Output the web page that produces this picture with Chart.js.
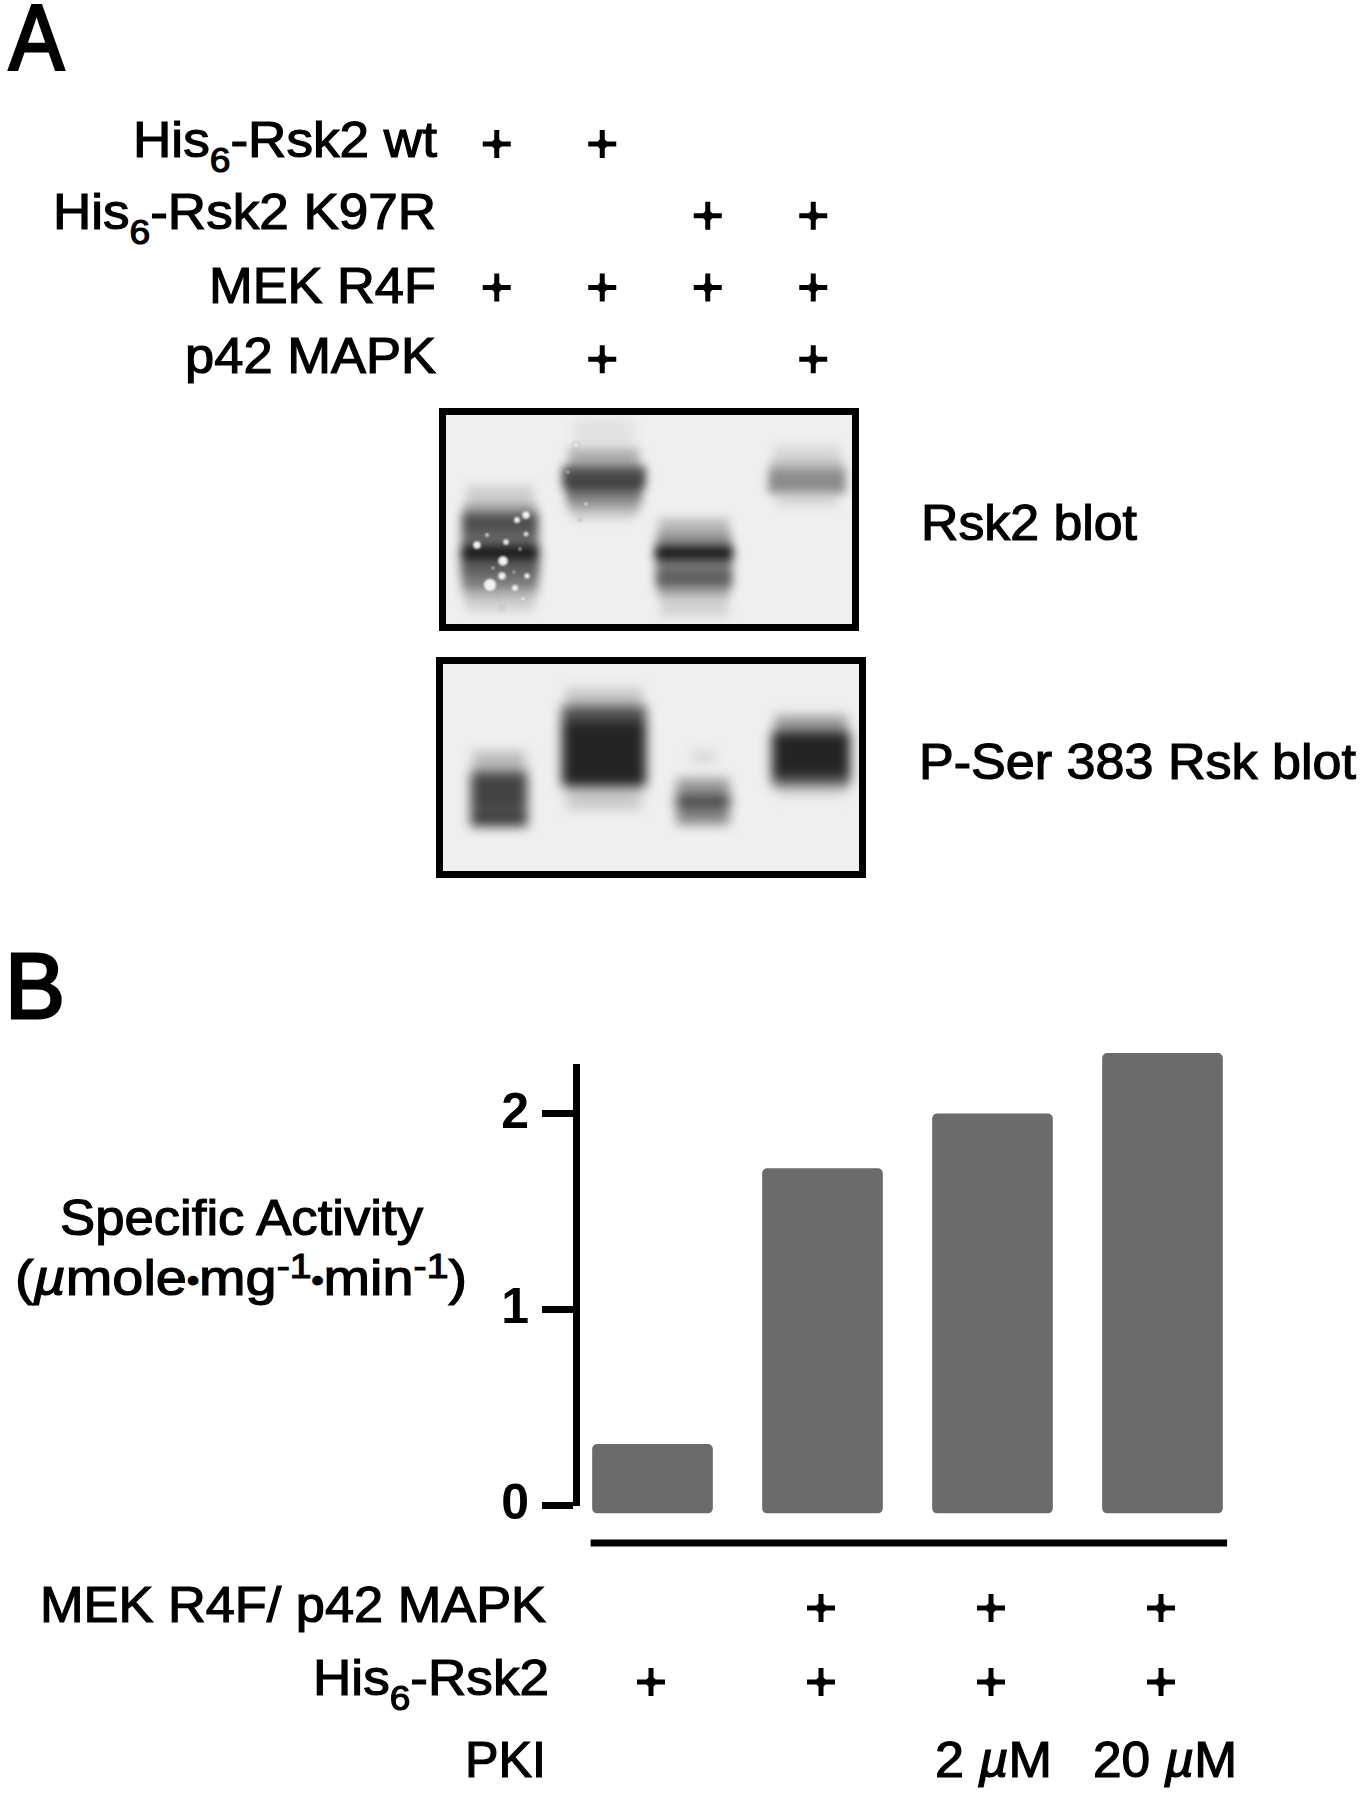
<!DOCTYPE html>
<html>
<head>
<meta charset="utf-8">
<script src="https://cdn.jsdelivr.net/npm/chart.js@4"></script>
<style>
    html, body { margin: 0; padding: 0; background: #fff; }
    #page { position: relative; width: 1363px; height: 1800px; overflow: hidden; background: #fff; }
    canvas { position: absolute; display: block; }
    .lbl {
        position: absolute; white-space: nowrap; color: #000; line-height: 1;
        font: 50px/1 "Liberation Sans", sans-serif; -webkit-text-stroke: 1.2px #000;
    }
    .lbl sub, .lbl sup { font-size: 70%; line-height: 0; }
    .lbl sub { vertical-align: -0.42em; }
    .lbl sup { vertical-align: 0.5em; }
    .lbl b { font-weight: normal; font-size: 62%; vertical-align: 0.12em; line-height: 0; }
    .blot { position: absolute; overflow: hidden; background: #efefef; box-sizing: border-box; }
    .frame { position: absolute; box-sizing: border-box; border: 7px solid #000; }
</style>
</head>
<body>
<div id="page"></div>
<script>
// panel B, specific activity
const activityValues = [0.31, 1.72, 2.0, 2.31];
const activityLanes = [1, 2, 3, 4];
const activityTicks = [0, 1, 2];

// conditions, 1 = plus sign
const tableARows = [
    [1, 1, 0, 0],
    [0, 0, 1, 1],
    [1, 1, 1, 1],
    [0, 1, 0, 1]
];
const tableBRows = [
    [0, 1, 1, 1],
    [1, 1, 1, 1]
];

// Rsk2 blot bands: centre, width, top, bottom, density
const rskCentre  = [54, 54, 54, 54, 54, 54, 54, 54, 54, 158, 158, 158, 158, 158, 158, 158, 124, 192, 248, 248, 248, 248, 248, 248, 248, 361, 361, 361, 361, 332, 390];
const rskWidth   = [66, 72, 76, 76, 78, 78, 76, 72, 68, 60, 70, 76, 78, 76, 72, 64, 14, 14, 70, 74, 78, 76, 76, 72, 68, 66, 72, 76, 60, 18, 18];
const rskTop     = [71, 88, 98, 117, 131, 144, 160, 174, 185, 4, 34, 51, 62, 74, 85, 95, 52, 52, 104, 118, 131, 144, 157, 171, 181, 30, 44, 54, 77, 54, 54];
const rskBottom  = [88, 98, 117, 131, 144, 160, 174, 185, 197, 34, 51, 62, 74, 85, 95, 104, 72, 72, 118, 131, 144, 157, 171, 181, 201, 44, 54, 77, 91, 78, 78];
const rskDensity = [0.15, 0.35, 0.72, 0.62, 0.97, 0.66, 0.52, 0.25, 0.12, 0.06, 0.3, 0.7, 0.8, 0.55, 0.35, 0.15, 0.95, 0.95, 0.25, 0.45, 0.97, 0.55, 0.66, 0.35, 0.13, 0.1, 0.22, 0.45, 0.12, 0.6, 0.6];

// white specks on the Rsk2 blot: x, y, radius
const speckX = [31, 71, 80, 80, 60, 41, 74, 57, 56, 44, 69, 81, 47, 68, 52, 77, 56, 130, 122, 140, 134];
const speckY = [130, 105, 100, 119, 127, 120, 134, 146, 161, 170, 173, 161, 153, 157, 181, 184, 193, 30, 57, 89, 105];
const speckR = [4, 3.2, 4, 2.5, 3, 2, 1.5, 5, 4, 6.5, 3.5, 3, 1.5, 1.5, 1.5, 2.5, 2, 3, 1.5, 2, 1.5];

// P-Ser 383 blot bands
const pserCentre  = [56, 56, 56, 56, 161, 161, 161, 161, 260, 260, 260, 260, 368, 368, 368, 368];
const pserWidth   = [52, 56, 56, 56, 76, 84, 84, 74, 24, 52, 54, 52, 72, 78, 78, 66];
const pserTop     = [88, 108, 145, 150, 25, 42, 58, 122, 88, 115, 132, 142, 52, 68, 112, 122];
const pserBottom  = [108, 145, 150, 162, 42, 58, 122, 145, 98, 132, 142, 160, 68, 112, 122, 132];
const pserDensity = [0.25, 0.78, 0.65, 0.84, 0.2, 0.72, 0.92, 0.18, 0.12, 0.42, 0.8, 0.5, 0.4, 0.92, 0.65, 0.12];

const page = document.getElementById('page');

function addCanvas(parent, left, top, width, height) {
    const c = document.createElement('canvas');
    c.width = width;
    c.height = height;
    c.style.left = left + 'px';
    c.style.top = top + 'px';
    c.style.width = width + 'px';
    c.style.height = height + 'px';
    parent.appendChild(c);
    return c;
}

// text is fitted between a left and right edge, like the stretched type of the figure
function placeLabel(html, left, right, baseline, size) {
    const d = document.createElement('div');
    d.className = 'lbl';
    d.innerHTML = html;
    if (size) {
        d.style.fontSize = size + 'px';
    }
    page.appendChild(d);
    const fs = size || 50;
    d.style.left = left + 'px';
    d.style.top = (baseline - fs * 0.8465) + 'px';
    d.style.transformOrigin = 'left top';
    d.style.transform = 'scaleX(' + ((right - left) / d.getBoundingClientRect().width) + ')';
    return d;
}

const baseOptions = {
    responsive: false,
    animation: false,
    events: [],
    plugins: { legend: { display: false }, tooltip: { enabled: false } }
};
const noPadding = { padding: 0, autoPadding: false };

function plusChart(canvas, rows, xRange, yRange) {
    const points = [];
    rows.forEach((row, r) => row.forEach((on, c) => {
        if (on) {
            points.push({ x: c + 1, y: r + 1 });
        }
    }));
    new Chart(canvas, {
        type: 'scatter',
        data: {
            datasets: [
                { data: points, pointStyle: 'cross', pointRadius: 14, borderColor: '#000', borderWidth: 5, clip: false },
                { data: points, pointStyle: 'rectRot', pointRadius: 7, backgroundColor: '#000', borderWidth: 0, clip: false }
            ]
        },
        options: {
            ...baseOptions,
            layout: noPadding,
            scales: {
                x: { type: 'linear', display: false, min: xRange[0], max: xRange[1] },
                y: { type: 'linear', display: false, reverse: true, min: yRange[0], max: yRange[1] }
            }
        }
    });
}

function grey(d) {
    const v = Math.round(239 * (1 - d) + 18 * d);
    return 'rgb(' + v + ',' + v + ',' + v + ')';
}

function blot(left, top, width, height, blur, centre, widths, tops, bottoms, density) {
    const box = document.createElement('div');
    box.className = 'blot';
    box.style.left = left + 'px';
    box.style.top = top + 'px';
    box.style.width = width + 'px';
    box.style.height = height + 'px';
    page.appendChild(box);

    const c = addCanvas(box, 0, 0, width, height);
    c.style.filter = 'blur(' + blur + 'px)';
    new Chart(c, {
        type: 'bar',
        data: {
            datasets: centre.map((x, i) => ({
                data: [{ x: x, y: [tops[i], bottoms[i]] }],
                barThickness: widths[i],
                grouped: false,
                backgroundColor: grey(density[i])
            }))
        },
        options: {
            ...baseOptions,
            layout: noPadding,
            scales: {
                x: { type: 'linear', display: false, offset: false, min: 0, max: width },
                y: { type: 'linear', display: false, reverse: true, min: 0, max: height }
            }
        }
    });
    return box;
}

// panel A
placeLabel('A', 9, 64, 70, 92).style.webkitTextStroke = '3px #000';
placeLabel('His<sub>6</sub>-Rsk2 wt', 133, 437, 157);
placeLabel('His<sub>6</sub>-Rsk2 K97R', 53, 436, 229);
placeLabel('MEK R4F', 209, 436, 303);
placeLabel('p42 MAPK', 185, 436, 373);
plusChart(addCanvas(page, 444, 108, 422, 287), tableARows, [0.5, 4.5], [0.5, 4.5]);

const rskBox = blot(446, 415, 406, 209, 5, rskCentre, rskWidth, rskTop, rskBottom, rskDensity);
const speckCanvas = addCanvas(rskBox, 0, 0, 406, 209);
speckCanvas.style.filter = 'blur(0.8px)';
new Chart(speckCanvas, {
    type: 'bubble',
    data: {
        datasets: [{
            data: speckX.map((x, i) => ({ x: x, y: speckY[i], r: speckR[i] })),
            backgroundColor: '#f2f2f2',
            borderColor: 'rgba(0,0,0,0.25)',
            borderWidth: 1
        }]
    },
    options: {
        ...baseOptions,
        layout: noPadding,
        scales: {
            x: { type: 'linear', display: false, min: 0, max: 406 },
            y: { type: 'linear', display: false, reverse: true, min: 0, max: 209 }
        }
    }
});
blot(443, 664, 416, 207, 6, pserCentre, pserWidth, pserTop, pserBottom, pserDensity);

[[439, 408, 420, 223], [436, 657, 430, 221]].forEach(f => {
    const d = document.createElement('div');
    d.className = 'frame';
    d.style.left = f[0] + 'px';
    d.style.top = f[1] + 'px';
    d.style.width = f[2] + 'px';
    d.style.height = f[3] + 'px';
    page.appendChild(d);
});
placeLabel('Rsk2 blot', 921, 1137, 540);
placeLabel('P-Ser 383 Rsk blot', 919, 1356, 779);

// panel B
placeLabel('B', 5, 65, 1018, 92).style.webkitTextStroke = '3px #000';
placeLabel('Specific Activity', 60, 423, 1235);
placeLabel('(<i>µ</i>mole<b>•</b>mg<sup>-1</sup><b>•</b>min<sup>-1</sup>)', 15, 467, 1295);

const barBase = -0.041;
const ruleLevel = -0.194;
new Chart(addCanvas(page, 0, 1000, 1363, 800), {
    data: {
        datasets: [
            {
                type: 'bar',
                data: activityLanes.map((x, i) => ({ x: x, y: activityValues[i] })),
                base: barBase,
                barThickness: 120,
                backgroundColor: '#6b6b6b',
                borderRadius: 5,
                borderSkipped: false,
                clip: false
            },
            {
                type: 'line',
                data: [{ x: 0.636, y: ruleLevel }, { x: 4.38, y: ruleLevel }],
                borderColor: '#000',
                borderWidth: 7,
                pointRadius: 0,
                clip: false
            }
        ]
    },
    options: {
        ...baseOptions,
        layout: { autoPadding: false, padding: { top: 67, bottom: 295, right: 132, left: 0 } },
        scales: {
            x: { type: 'linear', display: false, offset: false, min: 0.55, max: 4.403 },
            y: {
                type: 'linear',
                min: 0,
                max: 2.24,
                afterFit: scale => { scale.width = 576; },
                afterBuildTicks: scale => { scale.ticks = activityTicks.map(v => ({ value: v })); },
                border: { display: true, color: '#000', width: 7 },
                grid: { drawOnChartArea: false, drawTicks: true, tickLength: 34, tickWidth: 7, tickColor: '#000' },
                ticks: {
                    padding: 13,
                    color: '#000',
                    font: { family: '"Liberation Sans", sans-serif', size: 50, weight: 'bold' }
                }
            }
        }
    }
});

placeLabel('MEK R4F/ p42 MAPK', 40, 546, 1622);
placeLabel('His<sub>6</sub>-Rsk2', 313, 549, 1695);
placeLabel('PKI', 465, 546, 1777);
plusChart(addCanvas(page, 566, 1571, 680, 148), tableBRows, [0.5, 4.5], [0.5, 2.5]);
placeLabel('2 <i>µ</i>M', 935, 1052, 1777);
placeLabel('20 <i>µ</i>M', 1093, 1237, 1777);
</script>
</body>
</html>
